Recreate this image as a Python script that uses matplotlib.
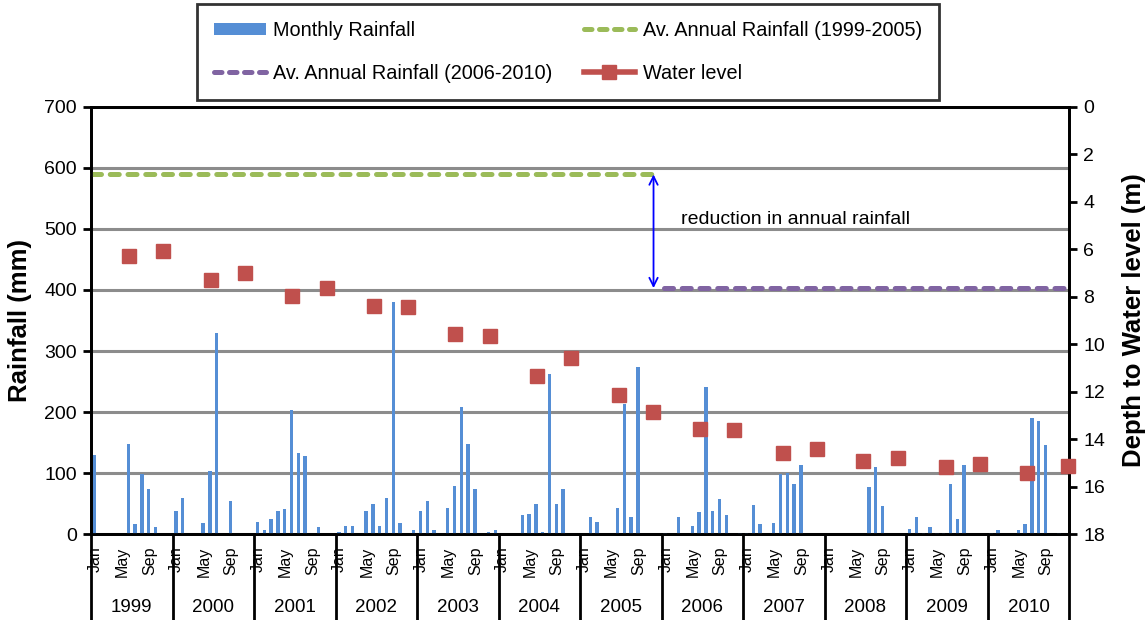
import numpy as np
import matplotlib
matplotlib.use("Agg")
import matplotlib.pyplot as plt
from matplotlib.lines import Line2D
from matplotlib.patches import Patch
import matplotlib.transforms as mtransforms

plt.rcParams['font.family'] = ['Liberation Sans', 'DejaVu Sans']

years = [1999, 2000, 2001, 2002, 2003, 2004, 2005, 2006, 2007, 2008, 2009, 2010]
month_labels = {0: 'Jan', 4: 'May', 8: 'Sep'}

rain_1999 = [130, 0, 0, 0, 0, 148, 17, 99, 75, 12, 0, 0]
rain_2000 = [38, 60, 0, 0, 19, 104, 330, 0, 55, 0, 0, 0]
rain_2001 = [21, 7, 26, 38, 41, 204, 134, 129, 0, 12, 0, 0]
rain_2002 = [4, 14, 14, 0, 38, 50, 14, 60, 380, 19, 0, 7]
rain_2003 = [38, 55, 7, 0, 43, 79, 208, 148, 74, 0, 4, 7]
rain_2004 = [0, 0, 0, 31, 33, 50, 4, 262, 50, 74, 0, 0]
rain_2005 = [0, 28, 21, 0, 0, 43, 213, 28, 274, 0, 0, 0]
rain_2006 = [3, 0, 28, 0, 14, 36, 241, 38, 58, 31, 0, 2]
rain_2007 = [2, 48, 17, 0, 19, 99, 101, 82, 113, 0, 0, 0]
rain_2008 = [0, 0, 0, 0, 0, 0, 77, 111, 46, 0, 0, 0]
rain_2009 = [9, 28, 2, 12, 2, 2, 82, 26, 113, 0, 0, 0]
rain_2010 = [2, 7, 0, 0, 7, 17, 190, 186, 146, 0, 2, 0]

avg_rain_1999_2005 = 589
avg_rain_2006_2010 = 403

# water level observations: time in months since Jan 1999, depth (m)
water_month = [5.6, 10.6, 17.6, 22.6, 29.6, 34.7, 41.7, 46.7, 53.6, 58.7, 65.7, 70.7,
               77.7, 82.7, 89.7, 94.7, 101.8, 106.8, 113.7, 118.8, 125.8, 130.8, 137.8, 143.8]
water_depth = [6.30, 6.07, 7.30, 7.01, 7.95, 7.65, 8.38, 8.42, 9.58, 9.65, 11.32, 10.56,
               12.12, 12.86, 13.55, 13.59, 14.57, 14.39, 14.90, 14.77, 15.17, 15.04, 15.43, 15.14]

rain = np.array(rain_1999 + rain_2000 + rain_2001 + rain_2002 + rain_2003 + rain_2004 +
                rain_2005 + rain_2006 + rain_2007 + rain_2008 + rain_2009 + rain_2010)
n = len(rain)

BLUE = '#558ed5'
GREEN = '#9bbb59'
PURPLE = '#8064a2'
RED = '#c0504d'
GRID = '#8c8c8c'

W, H = 1148, 620
fig = plt.figure(figsize=(W / 100, H / 100), dpi=100)
ax = fig.add_axes([91 / W, 85.6 / H, 978.3 / W, 427.8 / H])

ax.set_xlim(0, n)
ax.set_ylim(0, 700)
ax.set_yticks(range(0, 701, 100))
ax.yaxis.grid(True, color=GRID, lw=2.2, zorder=0)
ax.set_axisbelow(True)
ax.bar(np.arange(n) + 0.5, rain, width=0.5, color=BLUE, zorder=3)

for sp in ax.spines.values():
    sp.set_linewidth(2)
    sp.set_color('black')
ax.tick_params(axis='y', direction='out', length=6, width=2, labelsize=14, pad=4)
ax.set_xticks([])
ax.set_ylabel('Rainfall (mm)', fontsize=18.5, fontweight='bold', labelpad=9)

# average annual rainfall lines
end1 = (2005 - years[0] + 1) * 12
ax.plot([0.2, end1 - 1.2], [avg_rain_1999_2005] * 2, color=GREEN, lw=3.6,
        dashes=(1.8, 1.75), dash_capstyle='round', zorder=4, clip_on=False)
ax.plot([end1 + 0.3, n], [avg_rain_2006_2010] * 2, color=PURPLE, lw=3.6,
        dashes=(1.8, 1.75), dash_capstyle='round', zorder=4, clip_on=False)

ax.annotate('', xy=(end1 - 1.2, avg_rain_1999_2005), xytext=(end1 - 1.2, avg_rain_2006_2010),
            arrowprops=dict(arrowstyle='<->,head_length=0.6,head_width=0.3', color='#0000ff', lw=1.3,
                            shrinkA=0, shrinkB=0), zorder=5)
ax.text(end1 + 2.9, 516, 'reduction in annual rainfall', fontsize=14, va='center', ha='left')

# secondary axis
ax2 = ax.twinx()
ax2.set_ylim(18, 0)
ax2.set_yticks(range(0, 19, 2))
ax2.tick_params(axis='y', direction='out', length=6, width=2, labelsize=14, pad=4)
for sp in ax2.spines.values():
    sp.set_linewidth(2)
ax2.plot(water_month, water_depth, 's', color=RED, ms=10.5, zorder=6, clip_on=False)
ax2.set_ylabel('Depth to Water level (m)', fontsize=18.5, fontweight='bold', labelpad=12)

# multi-level category axis
trans = mtransforms.blended_transform_factory(ax.transData, ax.transAxes)
for i, yr in enumerate(years):
    for m, lab in month_labels.items():
        ax.text(i * 12 + m + 0.6, -0.028, lab, rotation=90, ha='center', va='top',
                fontsize=11.5, transform=trans, clip_on=False)
    ax.text(i * 12 + 6, -0.17, str(yr), ha='center', va='center', fontsize=13.5,
            transform=trans, clip_on=False)
for i in range(len(years) + 1):
    ax.plot([i * 12, i * 12], [0, -0.21], color='black', lw=2, transform=trans, clip_on=False)

# legend
handles = [Patch(facecolor=BLUE, edgecolor='none'),
           Line2D([], [], color=PURPLE, lw=3.6, dashes=(1.5, 1.5), dash_capstyle='round'),
           Line2D([], [], color=GREEN, lw=3.6, dashes=(1.5, 1.5), dash_capstyle='round'),
           Line2D([], [], color=RED, lw=4, marker='s', ms=10.5)]
labels = ['Monthly Rainfall', 'Av. Annual Rainfall (2006-2010)',
          'Av. Annual Rainfall (1999-2005)', 'Water level']
leg = fig.legend(handles, labels, ncol=2, loc='upper left',
                 bbox_to_anchor=(197 / W, 1 - 4 / H), borderaxespad=0, fontsize=14.3,
                 frameon=True, fancybox=False, edgecolor='black', handlelength=2.6,
                 handleheight=0.6, handletextpad=0.4, columnspacing=1.55,
                 labelspacing=1.2, borderpad=0.85)
leg.get_frame().set_linewidth(2)

fig.savefig('out.png', dpi=100)
